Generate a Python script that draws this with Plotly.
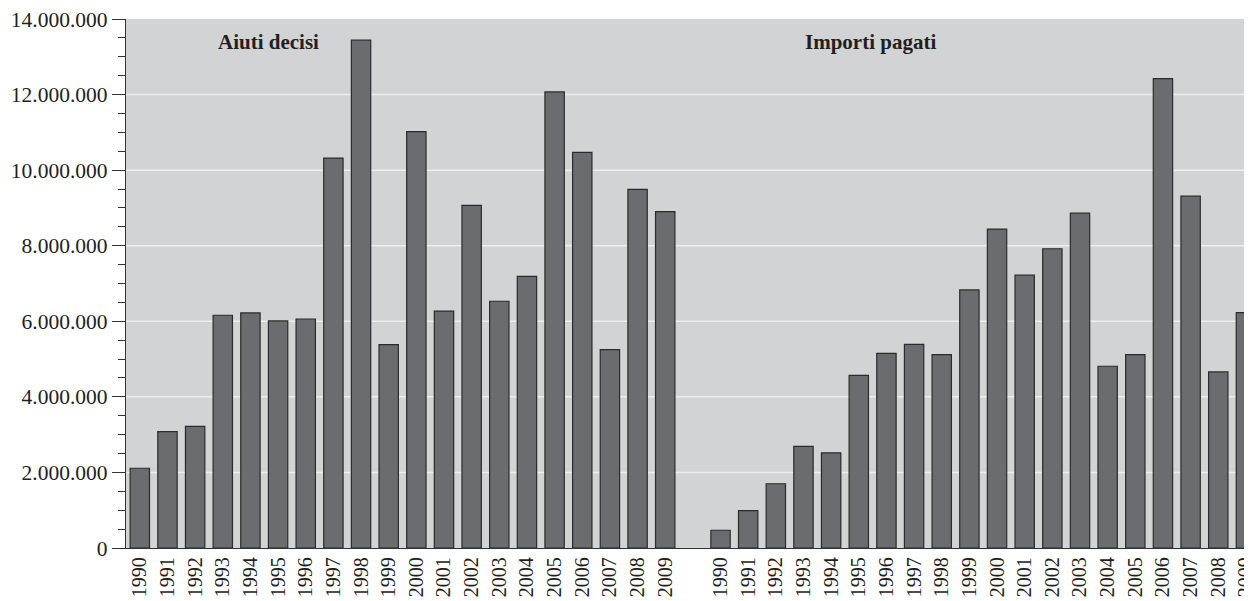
import plotly.graph_objects as go

years = [str(y) for y in range(1990, 2010)]
aiuti_decisi = [2110000, 3080000, 3220000, 6160000, 6220000, 6010000, 6060000, 10320000, 13440000, 5380000,
                11020000, 6270000, 9070000, 6530000, 7190000, 12070000, 10470000, 5250000, 9490000, 8900000]
importi_pagati = [470000, 990000, 1700000, 2690000, 2520000, 4570000, 5150000, 5390000, 5120000, 6830000,
                  8440000, 7220000, 7920000, 8860000, 4810000, 5120000, 12420000, 9310000, 4660000, 6230000]
group_labels = ["Aiuti decisi", "Importi pagati"]
y_ticks = list(range(0, 14000001, 2000000))
grid_values = y_ticks[1:-1]

n = len(years)
x1 = list(range(n))
x2 = [n + 1 + i for i in range(n)]

FONT = "Liberation Serif"
TXT = "#231f20"
BAR = "#6b6c6f"
EDGE = "#2b2b2b"

fig = go.Figure()
for xs, vals in ((x1, aiuti_decisi), (x2, importi_pagati)):
    fig.add_trace(go.Bar(x=xs, y=vals, width=0.7,
                         marker=dict(color=BAR, line=dict(color=EDGE, width=1.2)),
                         showlegend=False, hoverinfo="y"))

shapes = [dict(type="line", xref="paper", x0=0, x1=1, yref="y", y0=v, y1=v,
               line=dict(color="#eeeeee", width=1.5), layer="below") for v in grid_values]

annotations = [
    dict(text="<b>%s</b>" % group_labels[0], xref="x", x=4.67, yref="paper", y=0.957,
         showarrow=False, font=dict(family=FONT, size=21, color=TXT), xanchor="center", yanchor="middle"),
    dict(text="<b>%s</b>" % group_labels[1], xref="x", x=26.44, yref="paper", y=0.957,
         showarrow=False, font=dict(family=FONT, size=21, color=TXT), xanchor="center", yanchor="middle"),
]

# page body has an 8px margin; figure is sized so the plot area lands where the reference has it
fig.update_layout(
    width=1244, height=593,
    margin=dict(l=118, r=0, t=11, b=53, autoexpand=False),
    paper_bgcolor="white",
    plot_bgcolor="#d2d3d5",
    separators=",.",
    bargap=0.3,
    font=dict(family=FONT, color=TXT),
    shapes=shapes,
    annotations=annotations,
    xaxis=dict(
        range=[-0.5, 40.22],
        tickvals=x1 + x2,
        ticktext=years + years,
        tickangle=-90,
        tickfont=dict(family=FONT, size=20, color=TXT),
        showgrid=False, zeroline=False,
        showline=True, linecolor="#333333", linewidth=1.3,
        ticks="",
        automargin=False,
        ticklabeloverflow="allow",
    ),
    yaxis=dict(
        range=[0, 14000000],
        tickvals=y_ticks,
        tickformat=",d",
        tickfont=dict(family=FONT, size=21.5, color=TXT),
        showgrid=False, zeroline=False,
        showline=True, linecolor="#333333", linewidth=1.3,
        ticks="outside", ticklen=13, tickcolor="#333333", tickwidth=1.3,
        minor=dict(dtick=500000, ticks="outside", ticklen=7, tickcolor="#333333", tickwidth=1.1, showgrid=False),
        automargin=False,
        ticklabeloverflow="allow",
    ),
)

fig.write_html("out.html")
